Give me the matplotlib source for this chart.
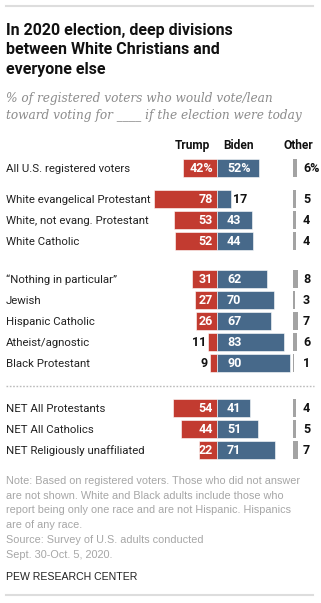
import matplotlib
matplotlib.use("Agg")
import matplotlib.pyplot as plt

# data
groups = [
    ["All U.S. registered voters"],
    ["White evangelical Protestant", "White, not evang. Protestant", "White Catholic"],
    ["\u201cNothing in particular\u201d", "Jewish", "Hispanic Catholic",
     "Atheist/agnostic", "Black Protestant"],
    ["NET All Protestants", "NET All Catholics", "NET Religiously unaffiliated"],
]
trump = [42, 78, 53, 52, 31, 27, 26, 11, 9, 54, 44, 22]
biden = [52, 17, 43, 44, 62, 70, 67, 83, 90, 41, 51, 71]
other = [6, 5, 4, 4, 8, 3, 7, 6, 1, 4, 5, 7]

title = ["In 2020 election, deep divisions",
         "between White Christians and",
         "everyone else"]
subtitle = ["% of registered voters who would vote/lean",
            "toward voting for ____ if the election were today"]
note = ["Note: Based on registered voters. Those who did not answer",
        "are not shown. White and Black adults include those who",
        "report being only one race and are not Hispanic. Hispanics",
        "are of any race.",
        "Source: Survey of U.S. adults conducted",
        "Sept. 30-Oct. 5, 2020."]

RED = "#c23b30"
BLUE = "#47698a"
GREY = "#a3a3a3"
NOTE = "#a6a6a6"

W, H = 321, 603
CX = 217.0      # px of the zero line
S = 0.81        # px per percentage point

NARROW = ["Roboto", "DejaVu Sans"]
SANS = ["Liberation Sans", "DejaVu Sans"]

fig = plt.figure(figsize=(W / 100, H / 100), dpi=100)
ax = fig.add_axes([0, 0, 1, 1])
ax.set_xlim(-CX / S, (W - CX) / S)
ax.set_ylim(H, 0)
ax.axis("off")


def X(px):
    return (px - CX) / S


# row layout
group_top = [168, 199, 279, 408]
step = 21
ys, labels = [], []
for g, names in enumerate(groups):
    for i, n in enumerate(names):
        ys.append(group_top[g] + i * step)
        labels.append(n)

bh = 18
ax.barh(ys, [-t for t in trump], height=bh, color=RED, edgecolor="white", linewidth=0.4)
ax.barh(ys, biden, height=bh, color=BLUE, edgecolor="white", linewidth=0.4)
other_x0 = X(293)
ax.barh(ys, [o * 0.8 for o in other], left=other_x0, height=bh, color=GREY, linewidth=0)

for k, y in enumerate(ys):
    yb = y + 4
    ax.text(X(6), yb, labels[k], family=NARROW, fontsize=8.2, va="baseline", ha="left", color="#222222")
    suf = "%" if k == 0 else ""
    t, b, o = trump[k], biden[k], other[k]
    if t >= 20:
        ax.text(X(213), yb, f"{t}{suf}", family=NARROW, fontsize=9, weight="bold",
                color="white", ha="right", va="baseline")
    else:
        ax.text(-t - 2 / S, yb, f"{t}{suf}", family=NARROW, fontsize=9, weight="bold",
                color="#111111", ha="right", va="baseline")
    if b >= 20:
        ax.text(X(227), yb, f"{b}{suf}", family=NARROW, fontsize=9, weight="bold",
                color="white", ha="left", va="baseline")
    else:
        ax.text(b + 2 / S, yb, f"{b}{suf}", family=NARROW, fontsize=9, weight="bold",
                color="#111111", ha="left", va="baseline")
    ax.text(X(303), yb, f"{o}{suf}", family=NARROW, fontsize=9, weight="bold",
            color="#111111", ha="left", va="baseline")

# column headers
for name, px in [("Trump", 192), ("Biden", 238), ("Other", 298)]:
    ax.text(X(px), 149, name, family=NARROW, fontsize=8.6, weight="bold",
            ha="center", va="baseline", color="#111111")

# dotted divider
ax.plot([X(6), X(314)], [386, 386], color="#bbbbbb", lw=1, ls=(0, (1.2, 1.2)))

# rules
ax.plot([X(6), X(313)], [6, 6], color="#dddddd", lw=1.5)
ax.plot([X(6), X(313)], [595, 595], color="#dddddd", lw=1.5)

# title
for i, line in enumerate(title):
    ax.text(X(6), 35 + i * 19.5, line, family=NARROW, fontsize=11.5, weight="bold",
            ha="left", va="baseline", color="#111111")
for i, line in enumerate(subtitle):
    ax.text(X(6), 102 + i * 17, line, family=["DejaVu Serif"], style="italic", fontsize=8.75,
            ha="left", va="baseline", color="#8c8c8c")
for i, line in enumerate(note):
    ax.text(X(6), 484 + i * 14.7, line, family=SANS, fontsize=7.8,
            ha="left", va="baseline", color=NOTE)
ax.text(X(6), 580, "PEW RESEARCH CENTER", family=SANS, fontsize=7.6,
        ha="left", va="baseline", color="#222222")

fig.savefig("out.png", dpi=100)
